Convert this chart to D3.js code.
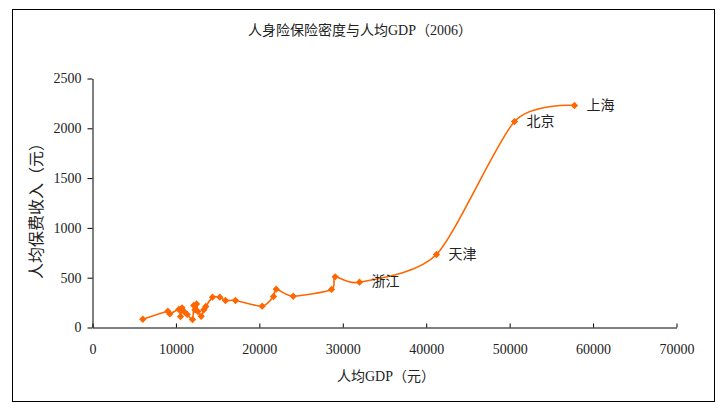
<!DOCTYPE html>
<html>
<head>
<meta charset="utf-8">
<script src="https://cdn.jsdelivr.net/npm/d3@7/dist/d3.min.js"></script>
<style>
  html, body { margin: 0; padding: 0; background: #fff; }
  svg { display: block; }
  text { font-family: "Liberation Serif", "Noto Sans CJK SC", serif; fill: #222; }
</style>
</head>
<body>
<svg id="chart" width="722" height="403"></svg>
<script>
// Per-capita GDP (yuan) of each province, 2006
const gdpPerCapita = [
  6030, 9030, 9270, 10340, 10550, 10730, 11030, 11350, 11990, 12140,
  12470, 12290, 12620, 13030, 13340, 13580, 14380, 15260, 15940, 17140,
  20340, 21700, 22020, 24060, 28650, 29090, 32000, 41230, 50580, 57770
];
// Life-insurance premium income per capita (yuan)
const premiumPerCapita = [
  83, 164, 136, 181, 110, 198, 156, 131, 80, 221,
  236, 178, 161, 113, 178, 211, 304, 304, 271, 271,
  214, 311, 385, 314, 382, 509, 455, 733, 2068, 2229
];
// Named provinces
const pointLabels = ["", "", "", "", "", "", "", "", "", "",
  "", "", "", "", "", "", "", "", "", "",
  "", "", "", "", "", "", "浙江", "天津", "北京", "上海"];
const xTicks = [0, 10000, 20000, 30000, 40000, 50000, 60000, 70000];
const yTicks = [0, 500, 1000, 1500, 2000, 2500];

const titleText = "人身险保险密度与人均GDP（2006）";
const xTitle = "人均GDP（元）";
const yTitle = "人均保费收入（元）";

const svg = d3.select("#chart");
const color = "#FF6600";

// outer frame
svg.append("rect")
  .attr("x", 12.5).attr("y", 9.5)
  .attr("width", 702).attr("height", 392)
  .attr("fill", "none").attr("stroke", "#000").attr("stroke-width", 1);

const x = d3.scaleLinear().domain([0, 70000]).range([92.5, 676.5]);
const y = d3.scaleLinear().domain([0, 2500]).range([327.5, 78.5]);

// axes
const xAxis = svg.append("g")
  .attr("transform", `translate(0,${y(0)})`)
  .call(d3.axisBottom(x).tickValues(xTicks).tickSize(5).tickSizeOuter(0).tickPadding(9)
    .tickFormat(d3.format("d")));
const yAxis = svg.append("g")
  .attr("transform", `translate(${x(0)},0)`)
  .call(d3.axisLeft(y).tickValues(yTicks).tickSize(5).tickSizeOuter(0).tickPadding(6)
    .tickFormat(d3.format("d")));

[xAxis, yAxis].forEach(g => {
  g.selectAll("path, line").attr("stroke", "#000");
  g.selectAll("text").attr("font-size", 14)
    .attr("font-family", "Liberation Serif, serif").attr("fill", "#333");
});
xAxis.selectAll(".tick line").attr("y1", -4).attr("y2", 0);
xAxis.selectAll(".tick text").attr("dy", "0.9em");

// points, ordered by GDP for the connecting line
const data = d3.sort(
  gdpPerCapita.map((g, i) => ({ g, p: premiumPerCapita[i], label: pointLabels[i] })),
  d => d.g
);

const line = d3.line()
  .x(d => x(d.g)).y(d => y(d.p))
  .curve(d3.curveCardinal.tension(0.25));
svg.append("path")
  .datum(data)
  .attr("d", line)
  .attr("fill", "none")
  .attr("stroke", color)
  .attr("stroke-width", 1.6);

// diamond markers
svg.append("g").selectAll("path")
  .data(data)
  .join("path")
  .attr("d", d3.symbol().type(d3.symbolDiamond2).size(34))
  .attr("transform", d => `translate(${x(d.g)},${y(d.p)})`)
  .attr("fill", color);

// province labels
svg.append("g").selectAll("text")
  .data(data.filter(d => d.label))
  .join("text")
  .attr("x", d => x(d.g) + 12)
  .attr("y", d => y(d.p) + 1)
  .attr("dominant-baseline", "middle")
  .attr("font-size", 14)
  .attr("font-family", "Noto Sans CJK SC, sans-serif")
  .attr("fill", "#333")
  .text(d => d.label);

// titles
svg.append("text")
  .attr("x", 360).attr("y", 32)
  .attr("text-anchor", "middle").attr("dominant-baseline", "middle")
  .attr("font-size", 14)
  .text(titleText);

svg.append("text")
  .attr("x", 386).attr("y", 378)
  .attr("text-anchor", "middle").attr("dominant-baseline", "middle")
  .attr("font-size", 14)
  .text(xTitle);

svg.append("text")
  .attr("transform", "translate(38,207) rotate(-90)")
  .attr("text-anchor", "middle").attr("dominant-baseline", "middle")
  .attr("font-size", 16)
  .text(yTitle);
</script>
</body>
</html>
